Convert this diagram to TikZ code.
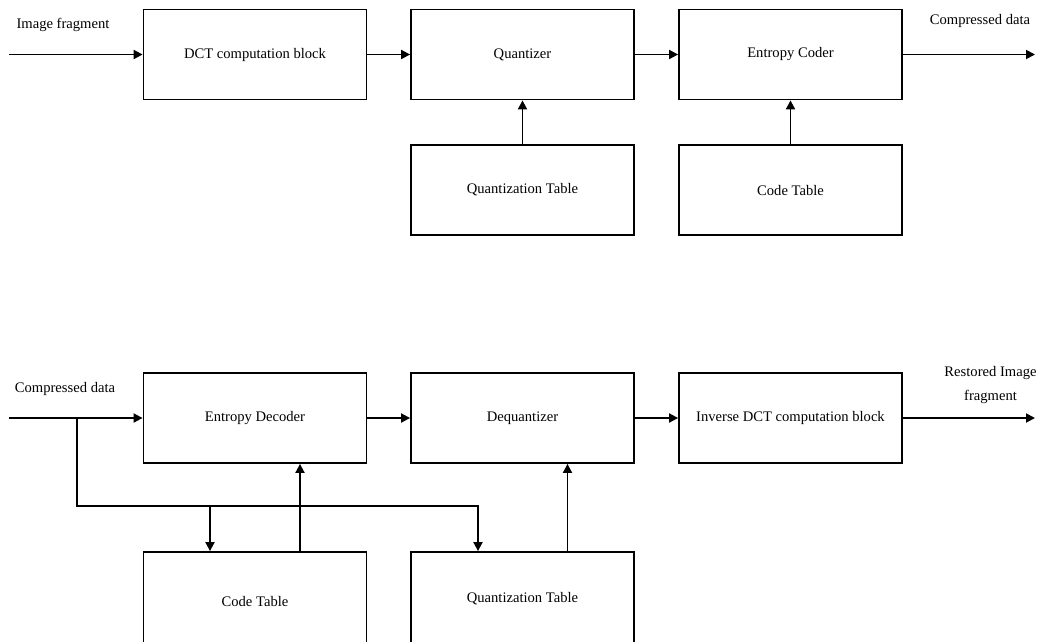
\documentclass[tikz,border=0pt]{standalone}
\usepackage{fontspec}
\setmainfont{Liberation Serif}
\usetikzlibrary{arrows.meta}
\begin{document}
\begin{tikzpicture}
	[x=1pt,y=-1pt,line width=1.8pt,
	every node/.style={font=\fontsize{14.6}{24}\selectfont},
	blk/.style={rectangle,draw=black,minimum width=223pt,minimum height=90pt,inner sep=0pt},
	arr/.style={-{Triangle[length=9pt,width=9pt]}}]
	\useasboundingbox (0,0) rectangle (1039,641);
	\clip (0,0) rectangle (1039,641);

	% coder
	\node[blk] (dct)   at (255,54.5)   {DCT computation block};
	\node[blk] (quant) at (522.5,54.5) {Quantizer};
	\node[blk] (coder) at (790.5,54.5) {Entropy Coder};

	\node[blk] (qtab1) at (522.5,190)  {Quantization Table};
	\node[blk] (ctab1) at (790.5,190)  {Code Table};

	% decoder
	\node[blk] (dec)  at (255,418)   {Entropy Decoder};
	\node[blk] (deq)  at (522.5,418) {Dequantizer};
	\node[blk] (idct) at (790.5,418) {Inverse DCT computation block};

	\node[blk,minimum height=98pt] (ctab2) at (255,601)   {Code Table};
	\node[blk,minimum height=94pt] (qtab2) at (522.5,599) {Quantization Table};

	% labels
	\node (lin1)  at (63,25)   {Image fragment};
	\node (lout1) at (980,21)  {Compressed data};
	\node (lin2)  at (65,389)  {Compressed data};
	\node[align=center] (lout2) at (990.5,385) {Restored Image\\fragment};

	\coordinate (in1)  at (9,54.5);
	\coordinate (out1) at (1035,54.5);
	\coordinate (in2)  at (9,418);
	\coordinate (out2) at (1035,418);
	\coordinate (br)   at (77,418);
	\coordinate (jc)   at (210,506);
	\coordinate (jq)   at (478,506);
	\coordinate (up1)  at (300,0);
	\coordinate (up2)  at (567.5,0);

	\foreach \from/\to in {in1/dct,dct/quant,quant/coder,coder/out1,
	qtab1/quant,ctab1/coder,
	in2/dec,dec/deq,deq/idct,idct/out2}
	\draw[arr] (\from) -- (\to);

	\draw[arr] (br) |- (jq) -- (qtab2.north -| jq);
	\draw[arr] (jc) -- (ctab2.north -| jc);
	\draw[arr] (ctab2.north -| up1) -- (dec.south -| up1);
	\draw[arr] (qtab2.north -| up2) -- (deq.south -| up2);
\end{tikzpicture}
\end{document}
